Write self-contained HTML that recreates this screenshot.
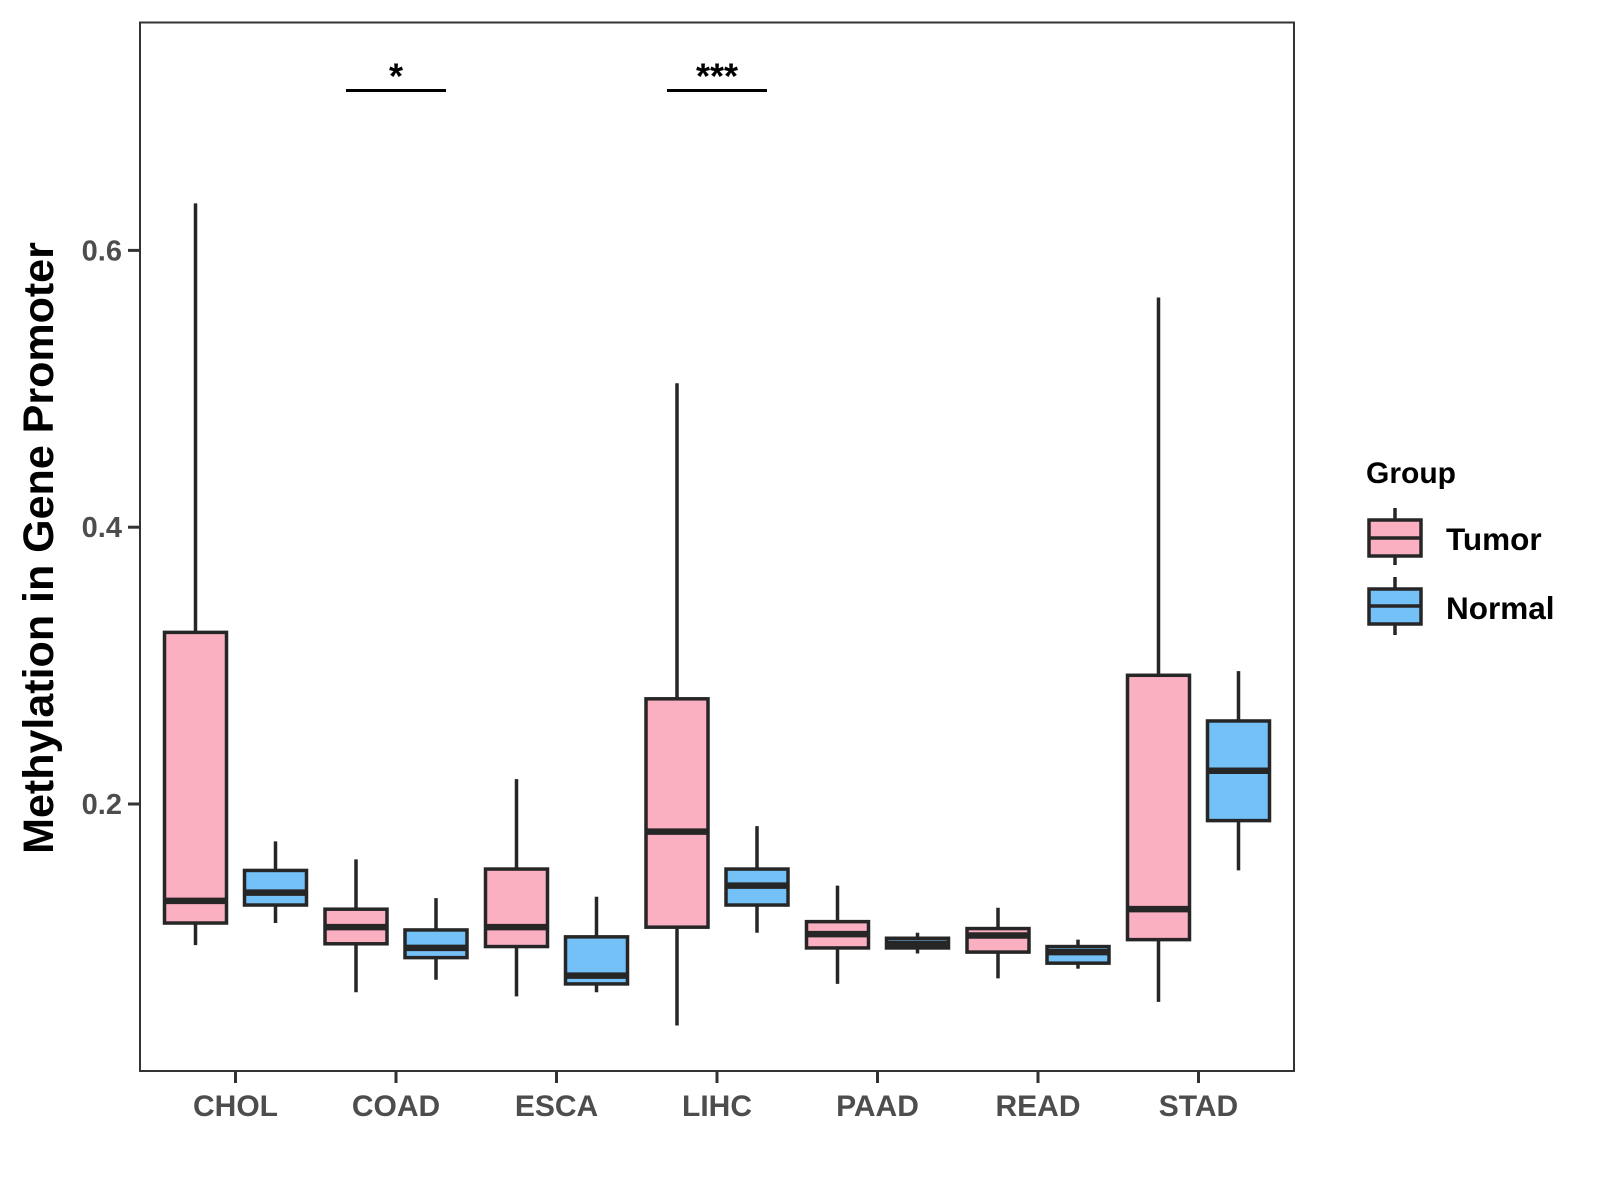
<!DOCTYPE html>
<html><head><meta charset="utf-8"><style>
html,body{margin:0;padding:0;background:#fff;}
svg{display:block;font-family:"Liberation Sans",Arial,sans-serif;}
</style></head><body>
<svg id="chart" width="1600" height="1200" viewBox="0 0 1600 1200" xmlns="http://www.w3.org/2000/svg">
<rect x="140" y="22.5" width="1154" height="1048.5" fill="#fff" stroke="#333" stroke-width="2"/>
<g id="marks"></g>
<g id="axes"></g>
<text transform="translate(53,548) rotate(-90)" text-anchor="middle" font-size="43" font-weight="bold" fill="#000">Methylation in Gene Promoter</text>
<g>
<text x="1366" y="483" font-size="30" font-weight="bold" fill="#000">Group</text>
<g>
<line x1="1395" y1="508" x2="1395" y2="565" stroke="#262626" stroke-width="3.5"/>
<rect x="1369" y="520" width="52" height="36" fill="#FBB0C1" stroke="#262626" stroke-width="3.5"/>
<line x1="1369" y1="538" x2="1421" y2="538" stroke="#262626" stroke-width="3.5"/>
<text x="1446" y="550" font-size="31.5" font-weight="bold" fill="#000">Tumor</text>
</g>
<g>
<line x1="1395" y1="577" x2="1395" y2="635" stroke="#262626" stroke-width="3.5"/>
<rect x="1369" y="589" width="52" height="35" fill="#74C1F8" stroke="#262626" stroke-width="3.5"/>
<line x1="1369" y1="606" x2="1421" y2="606" stroke="#262626" stroke-width="3.5"/>
<text x="1446" y="619" font-size="31.5" font-weight="bold" fill="#000">Normal</text>
</g>
</g>
</svg>
<script>
const categories = ["CHOL","COAD","ESCA","LIHC","PAAD","READ","STAD"];
const groups = ["Tumor","Normal"];
// [low, q1, median, q3, high]
const tumorStats = [
 [0.098,0.114,0.130,0.324,0.634],
 [0.064,0.099,0.111,0.124,0.160],
 [0.061,0.097,0.111,0.153,0.218],
 [0.040,0.111,0.180,0.276,0.504],
 [0.070,0.096,0.106,0.115,0.141],
 [0.074,0.093,0.105,0.110,0.125],
 [0.057,0.102,0.124,0.293,0.566]
];
const normalStats = [
 [0.114,0.127,0.136,0.152,0.173],
 [0.073,0.089,0.096,0.109,0.132],
 [0.064,0.070,0.076,0.104,0.133],
 [0.107,0.127,0.141,0.153,0.184],
 [0.092,0.096,0.099,0.103,0.107],
 [0.081,0.085,0.093,0.097,0.102],
 [0.152,0.188,0.224,0.260,0.296]
];
const yTicks = [0.2,0.4,0.6];
const yTickLabels = ["0.2","0.4","0.6"];
const sigCategories = ["COAD","LIHC"];
const sigLabels = ["*","***"];
const sigLevel = 0.7155;

const NS="http://www.w3.org/2000/svg";
const y = v => 804 - (v-0.2)*1384;
const x = c => 235.5 + categories.indexOf(c)*160.5;
const dodge = g => g===0 ? -40 : 40;
const boxW = 62;
const colors = ["#FBB0C1","#74C1F8"];
function mk(tag, attrs, parent){const e=document.createElementNS(NS,tag);for(const k in attrs)e.setAttribute(k,attrs[k]);parent.appendChild(e);return e;}
const marks=document.getElementById('marks'), axes=document.getElementById('axes');
[tumorStats,normalStats].forEach((stats,g)=>{
 stats.forEach((s,i)=>{
  const cx=x(categories[i])+dodge(g);
  const grp=mk('g',{},marks);
  
  
  mk('line',{x1:cx,x2:cx,y1:y(s[4]),y2:y(s[0]),stroke:'#262626','stroke-width':3.5},grp);
  mk('rect',{x:cx-boxW/2,y:y(s[3]),width:boxW,height:y(s[1])-y(s[3]),fill:colors[g],stroke:'#262626','stroke-width':3.5},grp);
  mk('line',{x1:cx-boxW/2,x2:cx+boxW/2,y1:y(s[2]),y2:y(s[2]),stroke:'#262626','stroke-width':6.5},grp);
 });
});
yTicks.forEach((t,i)=>{
 const tk=mk('line',{x1:128,x2:140,y1:y(t),y2:y(t),stroke:'#333','stroke-width':3},axes);
 
 
 const tl=mk('text',{x:122,y:y(t)+10,'text-anchor':'end','font-size':29,'font-weight':'bold',fill:'#4d4d4d'},axes);
 tl.textContent=yTickLabels[i];
 
 
});
categories.forEach(c=>{
 const tk=mk('line',{x1:x(c),x2:x(c),y1:1071,y2:1083,stroke:'#333','stroke-width':3},axes);
 
 
 const tl=mk('text',{x:x(c),y:1116,'text-anchor':'middle','font-size':30,'font-weight':'bold',fill:'#4d4d4d'},axes);
 tl.textContent=c;
 
 
});
sigCategories.forEach((c,i)=>{
 const cx=x(c);
 const ln=mk('line',{x1:cx-50,x2:cx+50,y1:y(sigLevel),y2:y(sigLevel),stroke:'#000','stroke-width':3},marks);
 
 
 const t=mk('text',{x:cx,y:y(sigLevel)-2,'text-anchor':'middle','font-size':36,'font-weight':'bold',fill:'#000'},marks);
 t.textContent=sigLabels[i];
 
 
});
</script>
</body></html>
